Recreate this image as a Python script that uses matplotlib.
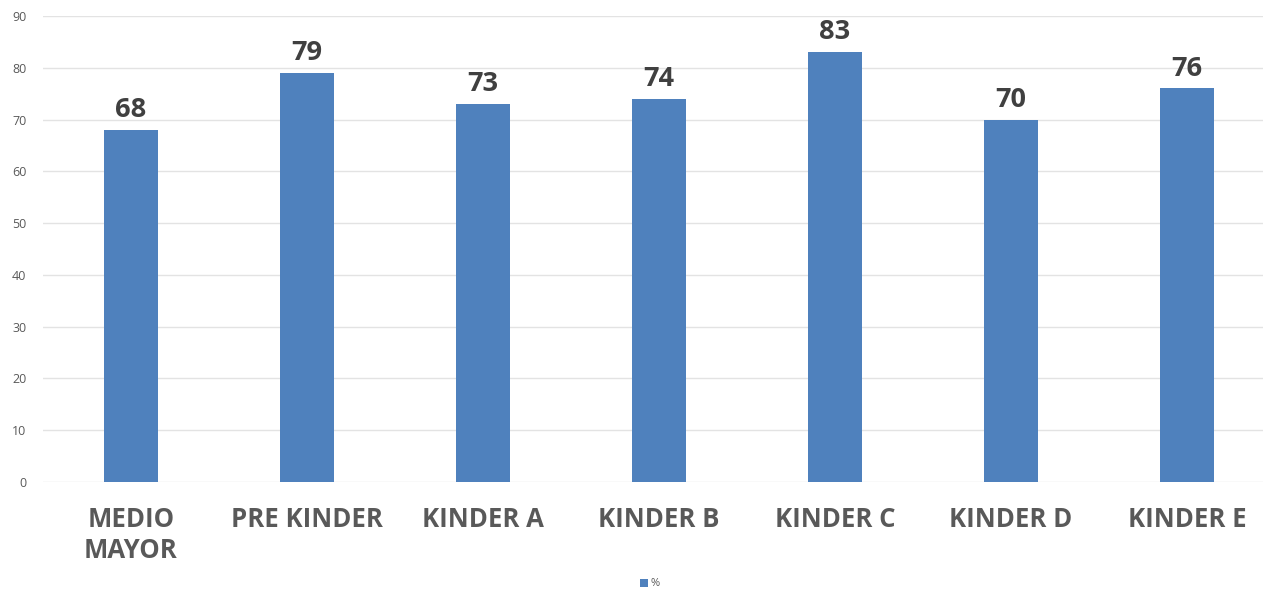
import numpy as np
import matplotlib.pyplot as plt

# datos
cursos = ['MEDIO\nMAYOR', 'PRE KINDER', 'KINDER A', 'KINDER B', 'KINDER C', 'KINDER D', 'KINDER E']
porcentajes = [68, 79, 73, 74, 83, 70, 76]
y_ticks = list(range(0, 100, 10))

plt.rcParams['font.family'] = ['Open Sans', 'DejaVu Sans']

fig = plt.figure(figsize=(12.63, 5.89), dpi=100)
ax = fig.add_axes([43 / 1263, 107 / 589, 1232 / 1263, 466 / 589])

x = np.arange(len(cursos))
barras = ax.bar(x, porcentajes, width=0.31, color='#4F81BD', label='%', zorder=3)

for xi, v in zip(x, porcentajes):
    ax.annotate(str(v), (xi, v), xytext=(0, 5), textcoords='offset points',
                ha='center', va='bottom', fontsize=19.5, fontweight='bold', color='#404040')

ax.set_xlim(-0.5, len(cursos) - 0.5)
ax.set_ylim(0, 90)
ax.set_yticks(y_ticks)
ax.set_xticks(x)
ax.set_xticklabels(cursos, fontsize=18.5, fontweight='bold', color='#595959', linespacing=1.2)
ax.tick_params(axis='x', length=0, pad=17)
ax.tick_params(axis='y', length=0, labelsize=9, labelcolor='#595959', pad=12)
ax.grid(axis='y', color='#E3E3E3', linewidth=1, zorder=0)
for s in ax.spines.values():
    s.set_visible(False)

fig.legend(handles=[barras], labels=['%'], loc='center', bbox_to_anchor=(650 / 1263, 1 - 584 / 589),
           frameon=False, fontsize=8, handlelength=0.7, handleheight=0.7, handletextpad=0.3,
           labelcolor='#595959')

fig.savefig('out.png', dpi=100)
